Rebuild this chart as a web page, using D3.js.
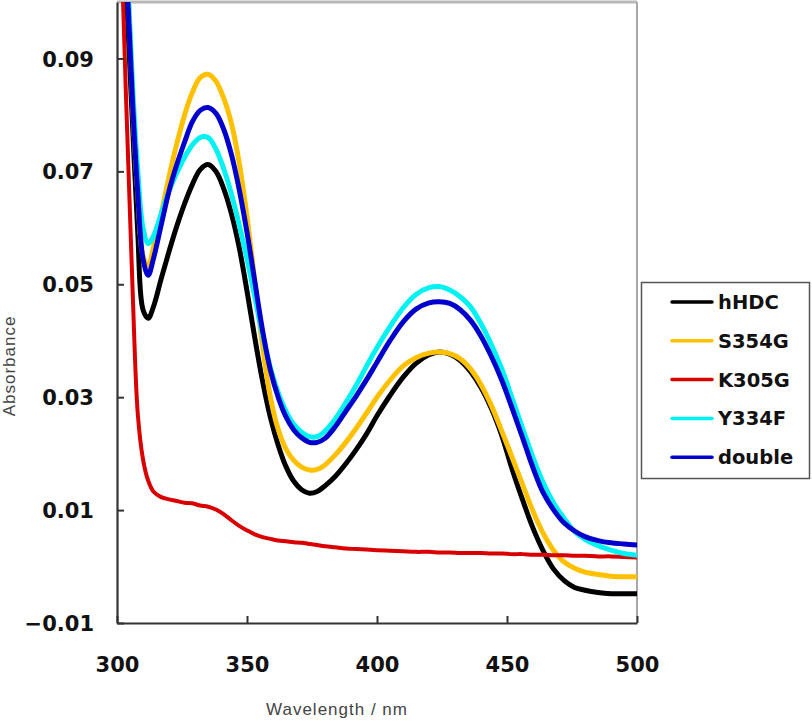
<!DOCTYPE html>
<html>
<head>
<meta charset="utf-8">
<script src="https://cdn.jsdelivr.net/npm/d3@7"></script>
<style>
  html, body { margin: 0; padding: 0; background: #fff; }
  svg { display: block; }
</style>
</head>
<body>
<svg id="chart" width="812" height="721"></svg>
<script>
// ---- data ----
const wavelengths = [300,302,304,306,308,310,312,314,317,320,323,326,329,332,335,338,341,344,347,350,353,356,359,362,365,368,371,374,377,380,384,388,392,396,400,405,410,415,420,424,428,432,436,440,444,448,452,456,460,464,468,472,476,480,485,490,495,500];

const hHDC  = [0.160,0.125,0.098,0.078,0.059,0.0455,0.0440,0.0460,0.0510,0.0558,0.0603,0.0643,0.0677,0.0703,0.0712,0.0700,0.0670,0.0625,0.0565,0.0488,0.0405,0.0328,0.0264,0.0215,0.0177,0.0151,0.0136,0.0130,0.0133,0.0143,0.0160,0.0182,0.0207,0.0235,0.0267,0.0303,0.0335,0.0360,0.0375,0.0380,0.0376,0.0365,0.0345,0.0317,0.0280,0.0232,0.0172,0.0118,0.0068,0.0027,-0.0005,-0.0025,-0.0037,-0.0042,-0.0046,-0.0048,-0.0048,-0.0048];

const S354G = [0.170,0.135,0.105,0.082,0.066,0.0550,0.0532,0.0565,0.0625,0.0690,0.0749,0.0800,0.0840,0.0866,0.0872,0.0860,0.0830,0.0785,0.0715,0.0620,0.0505,0.0390,0.0300,0.0243,0.0208,0.0188,0.0176,0.0171,0.0172,0.0180,0.0198,0.0220,0.0245,0.0272,0.0300,0.0330,0.0355,0.0370,0.0378,0.0380,0.0377,0.0368,0.0350,0.0322,0.0285,0.0240,0.0193,0.0145,0.0098,0.0058,0.0028,0.0008,-0.0003,-0.0010,-0.0014,-0.0017,-0.0018,-0.0018];

const K305G = [0.160,0.105,0.076,0.049,0.027,0.0190,0.0152,0.0133,0.0123,0.0119,0.0116,0.0113,0.0112,0.0108,0.0106,0.0101,0.0093,0.0082,0.0072,0.0064,0.0057,0.0052,0.0049,0.0046,0.0045,0.0043,0.0042,0.0040,0.0038,0.0036,0.0034,0.0032,0.0031,0.0030,0.0029,0.0028,0.0027,0.0026,0.0026,0.0025,0.0025,0.0024,0.0024,0.0024,0.0023,0.0023,0.0022,0.0022,0.0021,0.0021,0.0020,0.0020,0.0019,0.0019,0.0018,0.0018,0.0017,0.0016];

const Y334F = [0.170,0.135,0.105,0.085,0.070,0.0600,0.0572,0.0585,0.0625,0.0665,0.0697,0.0725,0.0747,0.0760,0.0760,0.0740,0.0705,0.0660,0.0605,0.0545,0.0478,0.0410,0.0352,0.0308,0.0275,0.0252,0.0238,0.0230,0.0230,0.0240,0.0262,0.0290,0.0321,0.0355,0.0388,0.0425,0.0458,0.0482,0.0494,0.0496,0.0490,0.0478,0.0460,0.0430,0.0393,0.0350,0.0298,0.0245,0.0193,0.0148,0.0112,0.0085,0.0062,0.0048,0.0037,0.0029,0.0023,0.0020];

const double_ = [0.170,0.130,0.102,0.082,0.066,0.0545,0.0516,0.0545,0.0605,0.0665,0.0712,0.0752,0.0788,0.0808,0.0813,0.0803,0.0775,0.0730,0.0668,0.0592,0.0505,0.0418,0.0348,0.0300,0.0265,0.0242,0.0228,0.0220,0.0220,0.0227,0.0248,0.0275,0.0302,0.0331,0.0362,0.0400,0.0433,0.0456,0.0467,0.0469,0.0466,0.0455,0.0436,0.0408,0.0372,0.0330,0.0280,0.0228,0.0175,0.0130,0.0100,0.0077,0.0063,0.0053,0.0046,0.0042,0.0040,0.0038];

const seriesNames  = ["hHDC","S354G","K305G","Y334F","double"];
const seriesValues = [hHDC, S354G, K305G, Y334F, double_];
const seriesColors = ["#000000","#FFC000","#D90000","#00F2F2","#0000CC"];
const drawOrder    = [0, 1, 2, 3, 4];

const xTicks = [300,350,400,450,500];
const yTicks = [0.09,0.07,0.05,0.03,0.01,-0.01];

// ---- layout ----
const svg = d3.select("#chart");
const L = 117, R = 637, T = 2, B = 623;

const x = d3.scaleLinear().domain([300,500]).range([L,R]);
const y = d3.scaleLinear().domain([-0.01,0.10]).range([B,T]);

svg.append("rect").attr("width",812).attr("height",721).attr("fill","#fff");

svg.append("defs").append("clipPath").attr("id","plotclip")
  .append("rect").attr("x",L).attr("y",T).attr("width",R-L).attr("height",B-T);

// top & right frame (light gray)
svg.append("line").attr("x1",L).attr("x2",R).attr("y1",T).attr("y2",T)
  .attr("stroke","#b8b8b8").attr("stroke-width",3);
svg.append("line").attr("x1",R).attr("x2",R).attr("y1",T).attr("y2",B)
  .attr("stroke","#a8a8a8").attr("stroke-width",2);

// curves
const line = d3.line()
  .x((d,i) => x(wavelengths[i]))
  .y(d => y(d))
  .curve(d3.curveCatmullRom.alpha(0.5));

const g = svg.append("g").attr("clip-path","url(#plotclip)");
drawOrder.forEach(k => {
  g.append("path")
    .datum(seriesValues[k])
    .attr("d", line)
    .attr("fill","none")
    .attr("stroke", seriesColors[k])
    .attr("stroke-width", k === 2 ? 4 : 5)
    .attr("stroke-linejoin","round")
    .attr("stroke-linecap","round");
});

// axes
const fmtY = v => (v < 0 ? "\u2212" : "") + Math.abs(v).toFixed(2);
const yAxis = d3.axisLeft(y).tickValues(yTicks).tickFormat(fmtY)
  .tickSizeInner(-7).tickSizeOuter(0).tickPadding(23);
const xAxis = d3.axisBottom(x).tickValues(xTicks).tickFormat(d3.format("d"))
  .tickSizeInner(-7).tickSizeOuter(0).tickPadding(34);

const gy = svg.append("g").attr("transform",`translate(${L},0)`).call(yAxis);
const gx = svg.append("g").attr("transform",`translate(0,${B})`).call(xAxis);

[gx, gy].forEach(a => {
  a.select(".domain").attr("stroke","#333").attr("stroke-width",2.2);
  a.selectAll(".tick line").attr("stroke","#333").attr("stroke-width",2);
  a.selectAll(".tick text")
    .attr("fill","#111")
    .style("font-family","'DejaVu Sans', sans-serif")
    .style("font-weight","bold")
    .style("font-size","21px");
});
gy.selectAll(".tick text").attr("dy","0.36em");
gx.selectAll(".tick text").attr("dy","0.71em");

// axis titles
svg.append("text")
  .attr("x", 337).attr("y", 715)
  .attr("text-anchor","middle")
  .attr("fill","#444")
  .style("font-family","'Liberation Sans', Arial, sans-serif")
  .style("font-size","17px")
  .style("letter-spacing","1px")
  .text("Wavelength / nm");

svg.append("text")
  .attr("transform","translate(15,366) rotate(-90)")
  .attr("text-anchor","middle")
  .attr("fill","#444")
  .style("font-family","'Liberation Sans', Arial, sans-serif")
  .style("font-size","17px")
  .style("letter-spacing","1px")
  .text("Absorbance");

// legend
const lg = svg.append("g");
lg.append("rect")
  .attr("x",641.5).attr("y",282.5).attr("width",168).attr("height",196)
  .attr("fill","#fff").attr("stroke","#555").attr("stroke-width",1.5);
seriesNames.forEach((name,i) => {
  const cy = 302 + i*38.8;
  lg.append("line")
    .attr("x1",672).attr("x2",712).attr("y1",cy).attr("y2",cy)
    .attr("stroke",seriesColors[i]).attr("stroke-width",3.5)
    .attr("stroke-linecap","round");
  lg.append("text")
    .attr("x",718).attr("y",cy).attr("dy","0.36em")
    .attr("fill","#111")
    .style("font-family","'DejaVu Sans', sans-serif")
    .style("font-weight","bold")
    .style("font-size","19.5px")
    .text(name);
});
</script>
</body>
</html>
